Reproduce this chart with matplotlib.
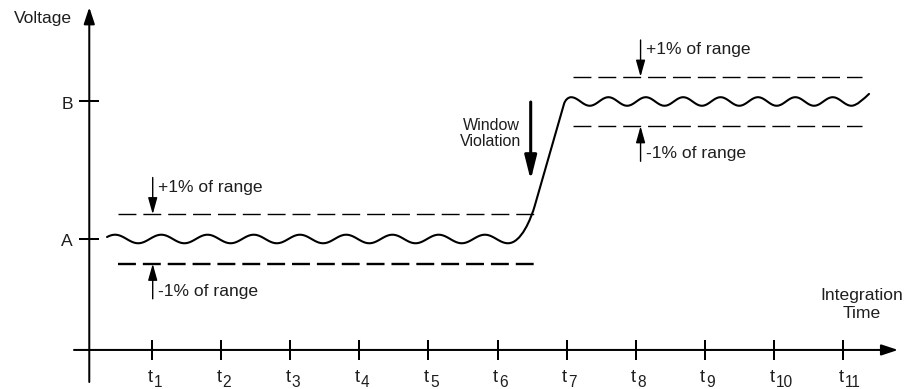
import numpy as np
import matplotlib
matplotlib.use("Agg")
import matplotlib.pyplot as plt
from matplotlib.path import Path
from matplotlib.patches import PathPatch

plt.rcParams['font.family'] = ['Liberation Sans', 'DejaVu Sans']
plt.rcParams['lines.scale_dashes'] = False

# ---- signal description (time in integration periods, voltage in arbitrary units)
level_a = 1.0
level_b = 2.0
window = 0.18                 # +/-1 % of range band around each level
ripple_amp = 0.031
ripple_period_a = 0.669
ripple_period_b = 0.541
ripple_a_span = (0.349, 6.152)
ripple_a_crest = 0.465
ripple_b_span = (7.064, 11.122)

# rising edge between the two levels: cubic Bezier / line / cubic Bezier
rise_t = [6.340, 6.483, 6.542, 6.962, 6.977, 7.020]
rise_v = [0.969, 1.143, 1.247, 1.982, 2.009, 2.031]
# short upturn at the end of the trace
tail_t = [11.20, 11.30, 11.376]
tail_v = [1.969, 2.02, 2.055]

window_a_span = (0.508, 6.586)
window_b_span = (7.093, 11.275)

time_ticks = list(range(1, 12))
time_tick_labels = [str(k) for k in time_ticks]
level_ticks = [level_a, level_b]
level_tick_labels = ["A", "B"]

# ---- layout
x_axis_v = 0.193
y_axis_t = 0.092
text_color = "#1e1e1e"
fs = 12.6

fig = plt.figure(figsize=(9.14, 3.89), dpi=100)
ax = fig.add_axes([0, 0, 1, 1])
ax.set_xlim(-1.2, 12.027)
ax.set_ylim(-0.091, 2.738)
ax.axis("off")

# axes with arrow heads
axis_arrow = dict(arrowstyle="-|>,head_length=1.0,head_width=0.33",
                  mutation_scale=10, lw=1.45, color="k", shrinkA=0, shrinkB=0)
ax.annotate("", xy=(11.796, x_axis_v), xytext=(-0.129, x_axis_v), arrowprops=axis_arrow)
ax.annotate("", xy=(y_axis_t, 2.685), xytext=(y_axis_t, -0.040), arrowprops=axis_arrow)

# time ticks and labels
ax.vlines(time_ticks, x_axis_v - 0.073, x_axis_v + 0.073, color="k", lw=1.45)
for t, lab in zip(time_ticks, time_tick_labels):
    ax.text(t + 0.006, -0.038, "t", ha="right", va="baseline",
            fontsize=13.2, color=text_color)
    ax.text(t + 0.022, -0.076, lab, ha="left", va="baseline",
            fontsize=11.2, color=text_color)

# level ticks and labels
ax.hlines(level_ticks, y_axis_t - 0.144, y_axis_t + 0.144, color="k", lw=1.45)
for v, lab in zip(level_ticks, level_tick_labels):
    ax.text(-0.143, v - 0.052, lab, ha="right", va="baseline",
            fontsize=fs, color=text_color)

ax.text(-0.997, 2.573, "Voltage", ha="left", va="baseline", fontsize=fs, color=text_color)
ax.text(11.275, 0.556, "Integration", ha="center", va="baseline", fontsize=fs, color=text_color)
ax.text(11.275, 0.425, "Time", ha="center", va="baseline", fontsize=fs, color=text_color)

# waveform
ta = np.linspace(*ripple_a_span, 600)
va = level_a + ripple_amp * np.cos(2 * np.pi * (ta - ripple_a_crest) / ripple_period_a)
tb = np.linspace(*ripple_b_span, 600)
vb = level_b + ripple_amp * np.cos(2 * np.pi * (tb - ripple_b_span[0]) / ripple_period_b)

verts = list(zip(ta, va))
codes = [Path.MOVETO] + [Path.LINETO] * (len(ta) - 1)
rise = list(zip(rise_t, rise_v))
verts += rise[0:3]
codes += [Path.CURVE4] * 3
verts += [rise[3]]
codes += [Path.LINETO]
verts += rise[4:6] + [(tb[0], vb[0])]
codes += [Path.CURVE4] * 3
verts += list(zip(tb[1:], vb[1:]))
codes += [Path.LINETO] * (len(tb) - 1)
verts += list(zip(tail_t, tail_v))
codes += [Path.CURVE4] * 3
ax.add_patch(PathPatch(Path(verts, codes), fill=False, ec="k", lw=1.5,
                       capstyle="round", joinstyle="round"))

# tolerance windows
dash = (0, (12.9, 5.0))
ax.plot(window_a_span, [level_a + window] * 2, color="k", lw=1.0, linestyle=dash)
ax.plot(window_a_span, [level_a - window] * 2, color="k", lw=1.7, linestyle=dash)
ax.plot(window_b_span, [level_b + window] * 2, color="k", lw=1.0, linestyle=dash)
ax.plot(window_b_span, [level_b - window] * 2, color="k", lw=1.0, linestyle=dash)

small_arrow = dict(arrowstyle="-|>,head_length=1.0,head_width=0.28",
                   mutation_scale=10, lw=1.0, color="k", shrinkA=0, shrinkB=0)
label_off = 0.255
for t_arrow, t_text, lvl in [(1.01, 1.082, level_a), (8.07, 8.149, level_b)]:
    ax.annotate("", xy=(t_arrow, lvl + window), xytext=(t_arrow, lvl + window + label_off + 0.012),
                arrowprops=small_arrow)
    ax.annotate("", xy=(t_arrow, lvl - window), xytext=(t_arrow, lvl - window - label_off),
                arrowprops=small_arrow)
    ax.text(t_text, lvl + window + 0.165, "+1% of range", ha="left", va="baseline",
            fontsize=fs, color=text_color)
    ax.text(t_text, lvl - window - 0.232, "-1% of range", ha="left", va="baseline",
            fontsize=fs, color=text_color)

# window violation marker
ax.annotate("", xy=(6.48, 1.429), xytext=(6.48, 1.996),
            arrowprops=dict(arrowstyle="-|>,head_length=1.44,head_width=0.36",
                            mutation_scale=10, lw=2.2, color="k", shrinkA=0, shrinkB=0))
ax.text(5.906, 1.793, "Window", ha="center", va="baseline", fontsize=11.5, color=text_color)
ax.text(5.906, 1.679, "Violation", ha="center", va="baseline", fontsize=11.5, color=text_color)

fig.savefig("out.png", dpi=100)
